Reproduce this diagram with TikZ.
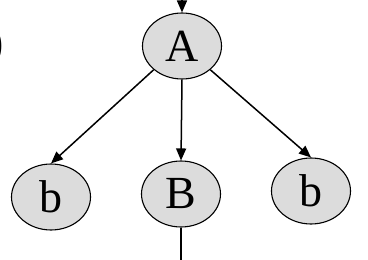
\documentclass[tikz,border=0pt]{standalone}
\usepackage{fontspec}
\setmainfont{Liberation Serif}
\usepackage{tikz}
\usepackage{xcolor}
\usetikzlibrary{arrows.meta,shapes.geometric}
\definecolor{nodegray}{HTML}{DCDCDC}
\definecolor{ink}     {HTML}{000000}
\tikzset{
  treenode/.style ={ellipse, draw=ink, fill=nodegray, line width=1.1pt,
                    minimum width=79pt, minimum height=66pt, inner sep=0pt,
                    font=\fontsize{46}{50}\selectfont},
  treearr/.style  ={-{Triangle[length=12pt,width=10pt]}, line width=1.5pt, color=ink},
  treeline/.style ={line width=1.5pt, color=ink},
}
\begin{document}
\begin{tikzpicture}[x=1pt,y=-1pt]
    \useasboundingbox (0,0) rectangle (368,260);

    \node[treenode] (A)  at (182,46)  {A};
    \node[treenode] (b1) at (51,197)  {b};
    \node[treenode] (B)  at (181,194) {B};
    \node[treenode] (b2) at (311,191) {b};

    \coordinate (top) at (182,0);
    \coordinate (bot) at (181,262);

    \draw[treearr] (top) -- (A.north);
    \draw[treearr] (A.-140) -- (b1.north);
    \draw[treearr] (A.south) -- (B.north);
    \draw[treearr] (A.-40) -- (b2.north);
    \draw[treeline] (B.south) -- (bot);

    \node[anchor=base east, inner sep=0pt, font=\fontsize{46}{50}\selectfont] (lbl) at (4.5,57) {)};
  \end{tikzpicture}
\end{document}
